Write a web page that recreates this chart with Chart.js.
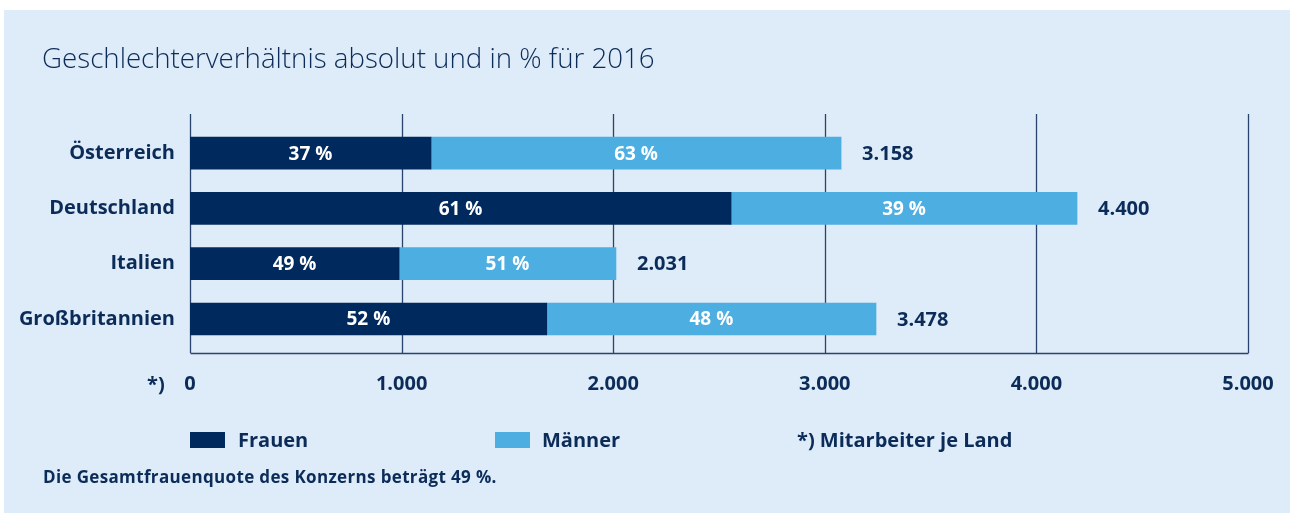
<!DOCTYPE html>
<html lang="de">
<head>
<meta charset="utf-8">
<script src="https://cdn.jsdelivr.net/npm/chart.js@4.4.1/dist/chart.umd.min.js"></script>
<style>
  html, body { margin: 0; padding: 0; background: #ffffff; }
  body { width: 1290px; height: 513px; position: relative; overflow: hidden; font-family: "Open Sans", sans-serif; color: #0b2c59; }
  #panel { position: absolute; left: 4px; top: 10px; width: 1286px; height: 503px; background: #deebf8; }
  #chart { position: absolute; left: 0; top: 0; }
  .t { position: absolute; white-space: nowrap; line-height: 1; }
  .b { font-weight: 700; font-size: 20px; }
  .sw { position: absolute; width: 35px; height: 16px; }
</style>
</head>
<body>
<div id="panel"></div>
<canvas id="chart" width="1290" height="513"></canvas>
<div class="t" id="title" style="left:42px; top:44px; font-size:27.7px; font-weight:300;">Geschlechterverhältnis absolut und in % für 2016</div>
<div class="t b" style="left:147px; top:374px;">*)</div>
<div class="sw" style="left:190px; top:432px; background:#002a5d;"></div>
<div class="t b" style="left:238px; top:430px;">Frauen</div>
<div class="sw" style="left:495px; top:432px; background:#4daee2;"></div>
<div class="t b" style="left:542px; top:430px;">Männer</div>
<div class="t b" style="left:797px; top:430px;">*) Mitarbeiter je Land</div>
<div class="t" style="left:43px; top:468px; font-size:17px; font-weight:700; letter-spacing:0.35px;">Die Gesamtfrauenquote des Konzerns beträgt 49 %.</div>
<script>
// Categories
const laender = ['Österreich', 'Deutschland', 'Italien', 'Großbritannien'];
// Bar lengths as drawn in the picture (employees)
const frauen = [1139, 2557, 988, 1686];
const maenner = [1938, 1635, 1025, 1556];
// Labels printed in the picture
const frauenProzent = ['37 %', '61 %', '49 %', '52 %'];
const maennerProzent = ['63 %', '39 %', '51 %', '48 %'];
const gesamtLabels = ['3.158', '4.400', '2.031', '3.478'];
// x-axis ticks
const xTickValues = [0, 1000, 2000, 3000, 4000, 5000];
const xTickLabels = ['0', '1.000', '2.000', '3.000', '4.000', '5.000'];

const NAVY = '#0b2c59';
const DARK = '#002a5d';
const LIGHT = '#4daee2';
const GRID = '#28446c';

const gridPlugin = {
  id: 'customGrid',
  beforeDatasetsDraw(chart) {
    const ctx = chart.ctx;
    const xs = chart.scales.x;
    const area = chart.chartArea;
    const top = area.top - 11.5;
    const bottom = area.bottom + 6.5;
    ctx.save();
    ctx.strokeStyle = GRID;
    ctx.lineWidth = 1.3;
    xTickValues.forEach(v => {
      const x = Math.round(xs.getPixelForValue(v)) + 0.5;
      ctx.beginPath();
      ctx.moveTo(x, top);
      ctx.lineTo(x, bottom);
      ctx.stroke();
    });
    ctx.beginPath();
    ctx.moveTo(Math.round(xs.getPixelForValue(0)) + 0.5, Math.round(bottom) + 0.5);
    ctx.lineTo(Math.round(xs.getPixelForValue(5000)) + 0.5, Math.round(bottom) + 0.5);
    ctx.stroke();
    ctx.restore();
  }
};

const labelPlugin = {
  id: 'barLabels',
  afterDatasetsDraw(chart) {
    const ctx = chart.ctx;
    ctx.save();
    ctx.font = '700 19px "Open Sans"';
    ctx.textBaseline = 'middle';
    ctx.textAlign = 'center';
    ctx.fillStyle = '#ffffff';
    const m0 = chart.getDatasetMeta(0);
    const m1 = chart.getDatasetMeta(1);
    m0.data.forEach((bar, i) => {
      ctx.fillText(frauenProzent[i], (bar.base + bar.x) / 2, bar.y + 1);
    });
    m1.data.forEach((bar, i) => {
      ctx.fillText(maennerProzent[i], (bar.base + bar.x) / 2, bar.y + 1);
    });
    ctx.font = '700 20px "Open Sans"';
    ctx.textAlign = 'left';
    ctx.fillStyle = NAVY;
    m1.data.forEach((bar, i) => {
      ctx.fillText(gesamtLabels[i], bar.x + 21, bar.y + 1);
    });
    ctx.restore();
  }
};

new Chart(document.getElementById('chart'), {
  type: 'bar',
  data: {
    labels: laender,
    datasets: [
      { label: 'Frauen', data: frauen, backgroundColor: DARK, barThickness: 32, borderWidth: 0 },
      { label: 'Männer', data: maenner, backgroundColor: LIGHT, barThickness: 32, borderWidth: 0 }
    ]
  },
  options: {
    indexAxis: 'y',
    responsive: false,
    animation: false,
    devicePixelRatio: 1,
    layout: { padding: { top: 125.5, right: 42, bottom: 0, left: 0 } },
    plugins: { legend: { display: false }, tooltip: { enabled: false } },
    scales: {
      x: {
        stacked: true,
        min: 0,
        max: 5000,
        afterBuildTicks(scale) { scale.ticks = xTickValues.map(v => ({ value: v })); },
        afterFit(scale) {
          scale.height = 166.4;
          scale.paddingLeft = 0;
          scale.paddingRight = 0;
        },
        grid: { display: false, drawTicks: false },
        border: { display: false },
        ticks: {
          padding: 26,
          color: NAVY,
          font: { family: 'Open Sans', weight: '700', size: 20 },
          maxRotation: 0,
          callback: (v, i) => xTickLabels[i]
        }
      },
      y: {
        stacked: true,
        afterFit(scale) { scale.width = 190; },
        grid: { display: false, drawTicks: false },
        border: { display: false },
        ticks: {
          padding: 15,
          color: NAVY,
          font: { family: 'Open Sans', weight: '700', size: 20 }
        }
      }
    }
  },
  plugins: [gridPlugin, labelPlugin]
});
</script>
</body>
</html>
